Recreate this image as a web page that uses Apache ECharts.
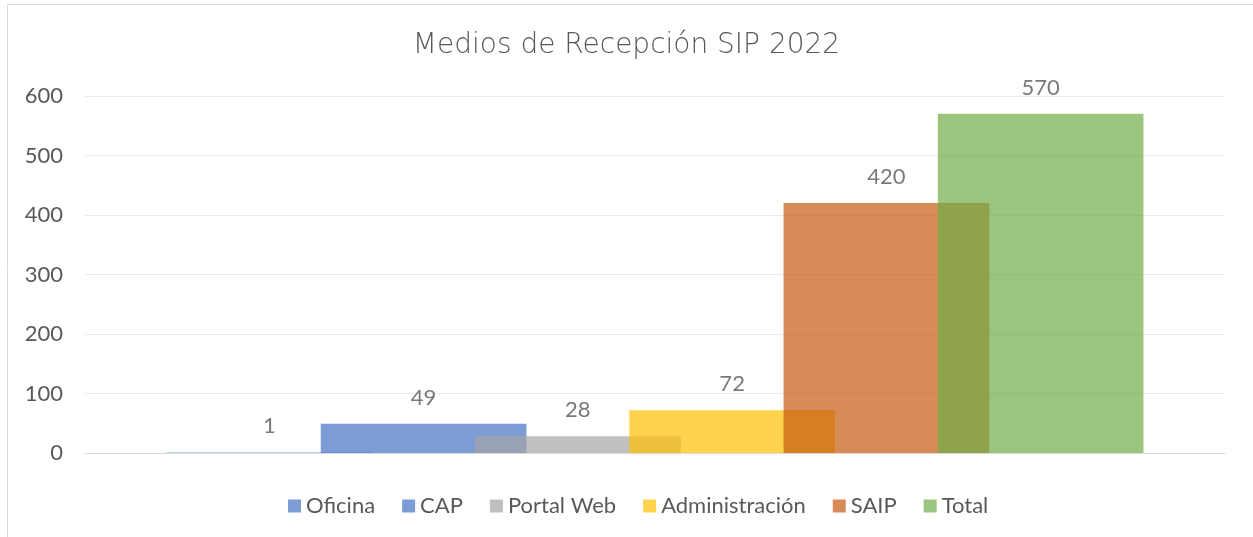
<!DOCTYPE html>
<html>
<head>
<meta charset="utf-8">
<script src="https://cdn.jsdelivr.net/npm/echarts@6/dist/echarts.min.js"></script>
<style>
  html, body { margin: 0; padding: 0; background: #fff; }
  #chart { width: 1253px; height: 537px; }
</style>
</head>
<body>
<div id="chart"></div>
<script>
// datos del gráfico
var categorias = [''];
var medios = ['Oficina', 'CAP', 'Portal Web', 'Administración', 'SAIP', 'Total'];
var valores = [1, 49, 28, 72, 420, 570];
var colores = ['#4472C4', '#4472C4', '#A5A5A5', '#FFC000', '#C55A11', '#70AD47'];
var marcasEje = [0, 100, 200, 300, 400, 500, 600];

var fuente = 'Lato';

function getSeries()
{
    var series = [];
    for (var i = 0; i < medios.length; i++) {
        series.push({
            name : medios[i],
            type : 'bar',
            data : [valores[i]],
            barGap : '-25%',
            barCategoryGap : '14.3%',
            itemStyle : { color: colores[i], opacity: 0.7 },
            label : {
                show : true,
                position : 'top',
                distance : 15,
                color : '#404040',
                fontFamily : fuente,
                fontSize : 22
            }
        });
    }
    return series;
}

var myChart = echarts.init(document.getElementById('chart'));
var options = {
    backgroundColor : '#fff',
    animation : false,
    title : {
        text : 'Medios de Recepción SIP 2022',
        left : 'center',
        top : 27,
        textStyle : {
            color : '#595959',
            fontFamily : 'DejaVu Sans',
            fontWeight : 200,
            fontSize : 28
        }
    },
    legend : {
        data : medios,
        left : 283,
        top : 490,
        icon : 'rect',
        itemWidth : 13,
        itemHeight : 13,
        itemGap : 27,
        textStyle : { color: '#595959', fontFamily: fuente, fontSize: 22 }
    },
    grid : { left: 85, right: 28, top: 96, bottom: 84 },
    xAxis : {
        type : 'category',
        data : categorias,
        axisTick : { show: false },
        axisLabel : { show: false },
        axisLine : { lineStyle: { color: '#D9D9D9' } }
    },
    yAxis : {
        type : 'value',
        min : marcasEje[0],
        max : marcasEje[marcasEje.length - 1],
        interval : 100,
        axisLine : { show: false },
        axisTick : { show: false },
        axisLabel : { color: '#595959', fontFamily: fuente, fontSize: 22, margin: 22 },
        splitLine : { lineStyle: { color: '#EBEBEB' } }
    },
    graphic : [{
        type : 'rect',
        shape : { x: 7.5, y: 4.5, width: 1260, height: 540 },
        style : { fill: null, stroke: '#D9D9D9', lineWidth: 1 },
        silent : true
    }],
    series : getSeries()
};
myChart.setOption(options);
</script>
</body>
</html>
